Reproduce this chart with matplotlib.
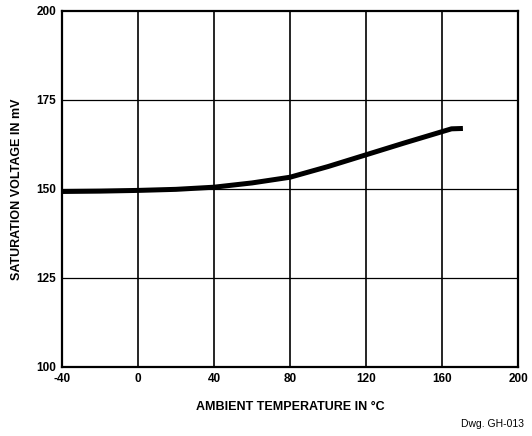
import matplotlib
matplotlib.use("Agg")
import matplotlib.pyplot as plt
import numpy as np

plt.rcParams["font.family"] = ["Liberation Sans", "DejaVu Sans"]

# Curve
temperature = [-40, -20, 0, 20, 40, 60, 80, 100, 120, 140, 160, 165, 171]
saturation_mv = [149.3, 149.4, 149.6, 149.9, 150.5, 151.7, 153.3, 156.3, 159.6, 162.9, 166.1, 166.9, 167.0]

x_ticks = [-40, 0, 40, 80, 120, 160, 200]
y_ticks = [100, 125, 150, 175, 200]

fig = plt.figure(figsize=(5.32, 4.36), dpi=100)
ax = fig.add_axes([0.1165, 0.1583, 0.8572, 0.8165])

ax.plot(temperature, saturation_mv, color="black", linewidth=3.6,
        solid_capstyle="butt", solid_joinstyle="round", zorder=3)

ax.set_xlim(-40, 200)
ax.set_ylim(100, 200)
ax.set_xticks(x_ticks)
ax.set_yticks(y_ticks)
ax.set_xticklabels([str(t) for t in x_ticks], fontsize=8.5, fontweight="bold")
ax.set_yticklabels([str(t) for t in y_ticks], fontsize=8.5, fontweight="bold")
ax.tick_params(length=0, pad=4)

for t in x_ticks[1:-1]:
    ax.axvline(t, color="black", linewidth=1.2, zorder=1)
for v in y_ticks[1:-1]:
    ax.axhline(v, color="black", linewidth=0.9, zorder=1)

for s in ax.spines.values():
    s.set_linewidth(1.6)

ax.set_xlabel("AMBIENT TEMPERATURE IN °C", fontsize=9, fontweight="bold", labelpad=12)
ax.set_ylabel("SATURATION VOLTAGE IN mV", fontsize=9, fontweight="bold", labelpad=10)

fig.text(0.985, 0.015, "Dwg. GH-013", ha="right", va="bottom", fontsize=7.5)

fig.savefig("out.png", dpi=100)
